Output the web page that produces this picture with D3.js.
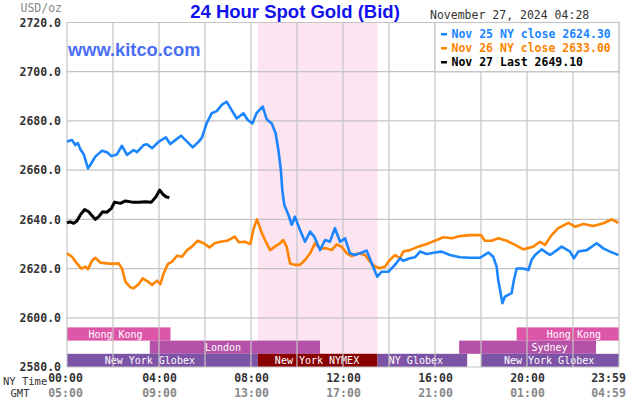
<!DOCTYPE html>
<html>
<head>
<meta charset="utf-8">
<script src="https://cdn.jsdelivr.net/npm/d3@7"></script>
<style>
  html, body { margin: 0; padding: 0; background: #fff; }
  svg { display: block; }
</style>
</head>
<body>
<svg id="chart" width="630" height="400"></svg>
<script>
// ---------------- DATA ----------------
const yTicks = [2580, 2600, 2620, 2640, 2660, 2680, 2700, 2720];
const xGridHours = [0, 2, 4, 6, 8, 10, 12, 14, 16, 18, 20, 22, 24];
const xLabelHours = [0, 4, 8, 12, 16, 20, 24];
const nyTimeLabels = ["00:00", "04:00", "08:00", "12:00", "16:00", "20:00", "23:59"];
const gmtLabels = ["05:00", "09:00", "13:00", "17:00", "21:00", "01:00", "04:59"];

const legendLabels = ["Nov 25 NY close 2624.30", "Nov 26 NY close 2633.00", "Nov 27 Last 2649.10"];

// Nov 25 (blue)
const nov25Hours = [0, 0.22, 0.36, 0.47, 0.58, 0.73, 0.91, 1.06, 1.23, 1.52, 1.74, 1.93, 2.17, 2.39, 2.61, 2.90, 3.04, 3.33, 3.48, 3.70, 3.99,
  4.30, 4.49, 4.71, 4.96, 5.22, 5.47, 5.73, 5.87, 6.07, 6.29, 6.51, 6.73, 6.94, 7.16, 7.38, 7.67, 7.86, 8.06, 8.25, 8.51, 8.68, 8.90,
  9.07, 9.19, 9.30, 9.36, 9.45, 9.62, 9.77, 9.91, 10.13, 10.35, 10.57, 10.75, 11.00, 11.22, 11.43, 11.65, 11.87, 12.09, 12.30, 12.52,
  12.74, 13.03, 13.25, 13.49, 13.68, 13.97, 14.26, 14.48, 14.62, 14.91, 15.13, 15.35, 15.64, 16.00, 16.29, 16.65, 17.09, 17.52, 17.96,
  18.32, 18.53, 18.68, 18.75, 18.83, 18.93, 19.04, 19.33, 19.43, 19.55, 19.84, 20.06, 20.20, 20.35, 20.64, 20.78, 21.00, 21.51, 21.87,
  22.04, 22.23, 22.60, 23.03, 23.32, 23.61, 23.97];
const nov25Prices = [2671.6, 2672.2, 2670.2, 2671.0, 2668.5, 2666.4, 2660.7, 2662.8, 2665.5, 2667.9, 2667.3, 2665.7, 2666.4, 2669.9, 2666.2, 2668.2, 2667.3, 2670.2, 2670.5, 2668.9, 2671.6,
  2673.3, 2670.6, 2672.2, 2674.0, 2671.6, 2669.3, 2671.6, 2673.3, 2679.0, 2683.1, 2684.0, 2686.5, 2687.8, 2684.4, 2681.0, 2683.1, 2680.4, 2679.0, 2683.3, 2685.8, 2680.7, 2679.0,
  2675.0, 2668.2, 2660.0, 2651.9, 2645.8, 2642.0, 2637.8, 2641.1, 2635.7, 2630.9, 2635.0, 2633.0, 2627.5, 2631.6, 2630.9, 2636.4, 2630.9, 2632.3, 2626.2, 2625.5,
  2626.2, 2627.3, 2622.1, 2616.7, 2618.7, 2618.7, 2621.5, 2624.2, 2623.2, 2624.2, 2624.6, 2626.9, 2625.9, 2626.5, 2626.9, 2625.5, 2624.6, 2624.4, 2624.4,
  2626.5, 2624.8, 2620.8, 2615.3, 2611.3, 2605.9, 2608.6, 2610.0, 2615.3, 2620.0, 2620.0, 2619.4, 2623.5, 2625.5, 2627.8, 2626.9, 2625.5, 2628.9, 2626.9,
  2624.2, 2626.9, 2627.5, 2630.3, 2628.2, 2626.9, 2625.5];

// Nov 26 (orange)
const nov26Hours = [0, 0.22, 0.43, 0.62, 0.80, 0.91, 1.09, 1.23, 1.45, 1.74, 2.03, 2.25, 2.39, 2.54, 2.75, 2.90, 3.12, 3.29, 3.52, 3.70, 3.91,
  4.06, 4.20, 4.39, 4.57, 4.78, 5.00, 5.22, 5.43, 5.68, 5.94, 6.20, 6.42, 6.67, 6.96, 7.29, 7.47, 7.73, 7.97, 8.12, 8.26, 8.45, 8.61,
  8.83, 9.04, 9.26, 9.40, 9.55, 9.70, 9.91, 10.13, 10.35, 10.57, 10.78, 11.00, 11.29, 11.51, 11.73, 11.94, 12.16, 12.38, 12.67, 12.96,
  13.17, 13.39, 13.61, 13.83, 13.97, 14.26, 14.48, 14.62, 14.91, 15.27, 15.64, 16.00, 16.36, 16.73, 17.09, 17.52, 18.00, 18.17, 18.46,
  18.75, 19.12, 19.48, 19.84, 20.27, 20.57, 20.78, 21.07, 21.36, 21.80, 22.09, 22.45, 22.88, 23.32, 23.68, 23.97];
const nov26Prices = [2626.2, 2624.8, 2622.1, 2620.0, 2620.8, 2619.8, 2623.2, 2624.4, 2622.4, 2622.1, 2621.9, 2622.1, 2620.0, 2614.7, 2612.4, 2612.0, 2613.7, 2616.0, 2614.7, 2613.3, 2615.1,
  2613.7, 2618.0, 2621.9, 2622.8, 2625.2, 2624.8, 2627.5, 2628.9, 2631.3, 2630.3, 2628.6, 2630.3, 2630.9, 2631.3, 2633.0, 2630.7, 2630.9, 2630.0, 2636.4, 2640.0, 2635.0, 2631.6,
  2627.5, 2628.9, 2630.3, 2631.6, 2628.9, 2622.1, 2621.5, 2621.5, 2623.5, 2626.2, 2630.3, 2628.2, 2628.2, 2627.5, 2629.8, 2628.9, 2626.2, 2625.1, 2626.2, 2625.5,
  2622.8, 2620.8, 2620.1, 2620.8, 2622.8, 2625.5, 2624.2, 2626.9, 2627.5, 2628.9, 2630.0, 2631.3, 2632.7, 2632.3, 2633.2, 2633.6, 2633.6, 2631.3, 2631.3,
  2632.3, 2631.3, 2629.6, 2627.8, 2628.9, 2630.9, 2629.6, 2633.6, 2636.4, 2638.6, 2637.0, 2638.1, 2637.3, 2638.4, 2640.0, 2638.6];

// Nov 27 (black, up to 04:28)
const nov27Hours = [0, 0.14, 0.29, 0.43, 0.58, 0.77, 0.94, 1.09, 1.23, 1.38, 1.55, 1.74, 1.93, 2.07, 2.32, 2.54, 2.83, 3.12, 3.40, 3.67, 3.87, 4.03, 4.17, 4.30, 4.45];
const nov27Prices = [2638.6, 2639.0, 2638.4, 2639.3, 2641.8, 2644.0, 2643.1, 2641.5, 2640.0, 2641.1, 2643.1, 2642.9, 2644.5, 2647.0, 2646.5, 2647.5, 2647.0, 2647.0, 2647.2, 2647.0, 2649.2, 2651.9, 2650.2, 2649.2, 2648.8];

// Trading sessions
const sessionNames = ["Hong Kong", "London", "New York Globex", "New York NYMEX", "NY Globex", "Hong Kong", "Sydney", "New York Globex"];
const sessionStart = [0, 3.6, 0, 8.3, 13.5, 19.55, 17.05, 18.0];
const sessionEnd = [4.5, 11.0, 8.3, 13.5, 17.4, 24, 23.0, 24];
const sessionRow = [0, 1, 2, 2, 2, 0, 1, 2];
const sessionLabelHour = [2.11, 6.78, 3.6, 10.87, 15.17, 22.04, 20.98, 20.96];
const nymexShadeStart = 8.3, nymexShadeEnd = 13.5;

// ---------------- STYLE / LAYOUT ----------------
const W = 630, H = 400;
const m = { left: 67, right: 11, top: 22.5, bottom: 33 };
const pw = W - m.left - m.right, ph = H - m.top - m.bottom;
const mono = "'DejaVu Sans Mono', monospace";
const sans = "'Liberation Sans', Arial, sans-serif";
const gridColor = "#c4c4c4";
const seriesColors = ["#1a85ff", "#ff8400", "#000000"];
const sessionColors = {
  "Hong Kong": "#dd56aa", "London": "#b352a8", "Sydney": "#b352a8",
  "New York Globex": "#7d53a6", "NY Globex": "#7d53a6", "New York NYMEX": "#880000"
};

const svg = d3.select("#chart");
const x = d3.scaleLinear().domain([0, 24]).range([m.left, m.left + pw]);
const y = d3.scaleLinear().domain([2580, 2720]).range([m.top + ph, m.top]);

// NYMEX shading
svg.append("rect")
  .attr("x", x(nymexShadeStart)).attr("y", y(2720))
  .attr("width", x(nymexShadeEnd) - x(nymexShadeStart)).attr("height", y(2580) - y(2720))
  .attr("fill", "#fce4f1");

// Session bars
const rowH = 13.2;
const bottomY = y(2580);
const sessions = sessionNames.map((n, i) => ({ name: n, s: sessionStart[i], e: sessionEnd[i], row: sessionRow[i], lh: sessionLabelHour[i] }));
const sg = svg.append("g");
sg.selectAll("rect").data(sessions).join("rect")
  .attr("x", d => x(d.s)).attr("width", d => x(d.e) - x(d.s))
  .attr("y", d => bottomY - (3 - d.row) * rowH).attr("height", rowH)
  .attr("fill", d => sessionColors[d.name]);
sg.selectAll("text").data(sessions).join("text")
  .attr("x", d => x(d.lh)).attr("y", d => bottomY - (3 - d.row) * rowH + rowH / 2 + 3.6)
  .attr("text-anchor", "middle").attr("fill", "#fff")
  .style("font-family", mono).style("font-size", "10px")
  .text(d => d.name);

// Grid
const grid = svg.append("g");
grid.selectAll("line.v").data(xGridHours).join("line").attr("class", "v")
  .attr("x1", d => x(d)).attr("x2", d => x(d)).attr("y1", y(2720)).attr("y2", y(2580))
  .attr("stroke", gridColor).attr("stroke-width", 1.2);
grid.selectAll("line.h").data(yTicks).join("line").attr("class", "h")
  .attr("x1", x(0)).attr("x2", x(24)).attr("y1", d => y(d)).attr("y2", d => y(d))
  .attr("stroke", gridColor).attr("stroke-width", 1.2);

// Y axis labels
const yAxis = d3.axisLeft(y).tickValues(yTicks).tickFormat(d3.format(".1f")).tickSize(0).tickPadding(6);
const yg = svg.append("g").attr("transform", `translate(${m.left},0)`).call(yAxis);
yg.select(".domain").remove();
yg.selectAll("text").attr("fill", "#333").style("font-family", mono).style("font-size", "11.5px").style("font-weight", "bold");

// X axis labels (NY time and GMT)
const xAxisNY = d3.axisBottom(x).tickValues(xLabelHours).tickFormat((d, i) => nyTimeLabels[i]).tickSize(0).tickPadding(0);
const xg1 = svg.append("g").attr("transform", `translate(0,${bottomY + 6.5})`).call(xAxisNY);
xg1.select(".domain").remove();
xg1.selectAll("text").attr("fill", "#333").style("font-family", mono).style("font-size", "11.5px").style("font-weight", "bold");
const xAxisGMT = d3.axisBottom(x).tickValues(xLabelHours).tickFormat((d, i) => gmtLabels[i]).tickSize(0).tickPadding(0);
const xg2 = svg.append("g").attr("transform", `translate(0,${bottomY + 21.5})`).call(xAxisGMT);
xg2.select(".domain").remove();
xg2.selectAll("text").attr("fill", "#888").style("font-family", mono).style("font-size", "11.5px").style("font-weight", "bold");
[xg1, xg2].forEach(g => {
  g.selectAll(".tick").filter(d => d === 0).select("text").attr("dx", -2);
  g.selectAll(".tick").filter(d => d === 24).select("text").attr("dx", -11);
});

svg.append("text").attr("x", 3).attr("y", 385).attr("fill", "#333")
  .style("font-family", mono).style("font-size", "10.5px").text("NY Time");
svg.append("text").attr("x", 20).attr("y", 397).attr("text-anchor", "middle").attr("fill", "#333")
  .style("font-family", mono).style("font-size", "10.5px").text("GMT");
svg.append("text").attr("x", 62).attr("y", 12).attr("text-anchor", "end").attr("fill", "#888")
  .style("font-family", mono).style("font-size", "11.5px").text("USD/oz");

// Lines
const seriesHours = [nov25Hours, nov26Hours, nov27Hours];
const seriesPrices = [nov25Prices, nov26Prices, nov27Prices];
const line = d3.line().x(d => x(d[0])).y(d => y(d[1])).curve(d3.curveLinear);
[1, 0, 2].forEach(i => {
  const pts = seriesHours[i].map((h, j) => [h, seriesPrices[i][j]]);
  svg.append("path").datum(pts).attr("d", line)
    .attr("fill", "none").attr("stroke", seriesColors[i])
    .attr("stroke-width", i === 2 ? 3 : 2.6).attr("stroke-linejoin", "round");
});

// Legend box
const lx0 = x(16), lx1 = x(24), ly0 = y(2720), ly1 = y(2700);
svg.append("rect").attr("x", lx0).attr("y", ly0).attr("width", lx1 - lx0).attr("height", ly1 - ly0)
  .attr("fill", "#fff").attr("stroke", gridColor).attr("stroke-width", 1.2);
legendLabels.forEach((t, i) => {
  const by = ly0 + 15.5 + i * 14;
  svg.append("rect").attr("x", lx0 + 6).attr("y", by - 5).attr("width", 6).attr("height", 2.5).attr("fill", seriesColors[i]);
  svg.append("text").attr("x", lx0 + 16.5).attr("y", by).attr("fill", seriesColors[i])
    .style("font-family", mono).style("font-size", "11.5px").style("font-weight", "bold").text(t);
});

// Titles
svg.append("text").attr("x", 295).attr("y", 18).attr("text-anchor", "middle").attr("fill", "#1212ee")
  .style("font-family", sans).style("font-size", "18.5px").style("font-weight", "bold")
  .text("24 Hour Spot Gold (Bid)");
svg.append("text").attr("x", 430).attr("y", 19).attr("fill", "#333")
  .style("font-family", mono).style("font-size", "11.5px")
  .text("November 27, 2024 04:28");
svg.append("text").attr("x", 68).attr("y", 56).attr("fill", "#4a6ef2")
  .style("font-family", sans).style("font-size", "18.3px").style("font-weight", "bold")
  .text("www.kitco.com");
</script>
</body>
</html>
